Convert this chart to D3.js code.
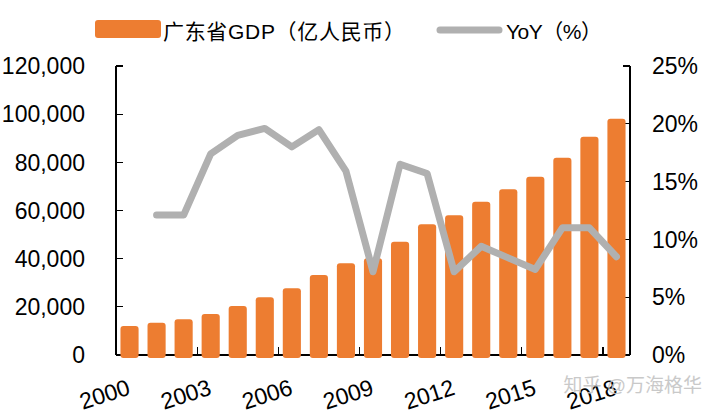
<!DOCTYPE html>
<html>
<head>
<meta charset="utf-8">
<script src="https://cdn.jsdelivr.net/npm/d3@7"></script>
<style>
  html, body { margin: 0; padding: 0; background: #fff; }
  svg { display: block; }
  text { font-family: "Liberation Sans", Arial, "Noto Sans CJK SC", sans-serif; }
</style>
</head>
<body>
<svg id="chart" width="708" height="416"></svg>
<script>
const years = ["2000","2001","2002","2003","2004","2005","2006","2007","2008","2009",
               "2010","2011","2012","2013","2014","2015","2016","2017","2018"];
const gdp = [12040, 13400, 14800, 17000, 20350, 23960, 27700, 33200, 38070, 40150,
             47050, 54270, 58000, 63650, 68800, 74030, 81930, 90640, 98120];
const yoy = [null, 12.1, 12.1, 17.4, 19.0, 19.6, 18.0, 19.5, 15.9, 7.2,
             16.5, 15.7, 7.2, 9.4, 8.4, 7.4, 11.0, 11.0, 8.5];
const leftTicks = [0, 20000, 40000, 60000, 80000, 100000, 120000];
const rightTicks = [0, 5, 10, 15, 20, 25];
const xLabelYears = ["2000","2003","2006","2009","2012","2015","2018"];
const legendLabels = ["广东省GDP（亿人民币）", "YoY（%）"];
const watermark = "知乎 @万海格华";

const svg = d3.select("#chart");
const L = 116, R = 630, T = 66, B = 355;
const fs = 23;

const x = d3.scaleBand().domain(years).range([L, R]).paddingInner(0.33).paddingOuter(0.165);
const yL = d3.scaleLinear().domain([0, 120000]).range([B, T]);
const yR = d3.scaleLinear().domain([0, 25]).range([B, T]);
const step = x.step(), gap = step - x.bandwidth();

// axes lines
const axisG = svg.append("g").attr("stroke", "#000").attr("stroke-width", 1.2).attr("shape-rendering", "crispEdges");
axisG.append("line").attr("x1", L).attr("x2", L).attr("y1", T).attr("y2", B);
axisG.append("line").attr("x1", R).attr("x2", R).attr("y1", T).attr("y2", B);
axisG.append("line").attr("x1", L).attr("x2", R).attr("y1", B).attr("y2", B);
leftTicks.forEach(v => {
  axisG.append("line").attr("x1", L).attr("x2", L + 7).attr("y1", yL(v)).attr("y2", yL(v));
});
rightTicks.forEach(v => {
  axisG.append("line").attr("x1", R - 7).attr("x2", R).attr("y1", yR(v)).attr("y2", yR(v));
});
years.forEach((yr, i) => {
  if (i > 0 && i % 3 === 0) {
    const tx = x(yr) - gap / 2;
    axisG.append("line").attr("x1", tx).attr("x2", tx).attr("y1", B).attr("y2", B - 8);
  }
});

// axis labels
const fmt = d3.format(",");
svg.append("g").selectAll("text").data(leftTicks).join("text")
  .attr("x", 85).attr("y", d => yL(d)).attr("dy", "0.36em")
  .attr("text-anchor", "end").attr("font-size", fs).attr("fill", "#000")
  .text(d => fmt(d));
svg.append("g").selectAll("text").data(rightTicks).join("text")
  .attr("x", 652).attr("y", d => yR(d)).attr("dy", "0.36em")
  .attr("text-anchor", "start").attr("font-size", fs).attr("fill", "#000")
  .text(d => d + "%");
svg.append("g").selectAll("text").data(xLabelYears).join("text")
  .attr("text-anchor", "end").attr("font-size", fs).attr("fill", "#000")
  .attr("transform", d => `translate(${x(d) + x.bandwidth() / 2 + 2},${394}) rotate(-18)`)
  .text(d => d);

// bars
svg.append("g").selectAll("rect").data(gdp).join("rect")
  .attr("x", (d, i) => x(years[i]))
  .attr("width", x.bandwidth())
  .attr("y", d => yL(d))
  .attr("height", d => yL(0) - yL(d) + 3)
  .attr("rx", 3)
  .attr("fill", "#ED7D31");

// line
const line = d3.line()
  .defined(d => d != null)
  .x((d, i) => x(years[i]) + x.bandwidth() / 2)
  .y(d => yR(d));
svg.append("path").datum(yoy)
  .attr("d", line)
  .attr("fill", "none")
  .attr("stroke", "#B0B0B0")
  .attr("stroke-width", 7)
  .attr("stroke-linejoin", "round")
  .attr("stroke-linecap", "round");

// legend
const lg = svg.append("g");
lg.append("rect").attr("x", 95).attr("y", 20).attr("width", 66).attr("height", 18).attr("rx", 3).attr("fill", "#ED7D31");
lg.append("text").attr("x", 163).attr("y", 31).attr("dy", "0.36em").attr("font-size", 21).attr("fill", "#000")
  .attr("textLength", 242).attr("lengthAdjust", "spacing").text(legendLabels[0]);
lg.append("line").attr("x1", 440).attr("x2", 499).attr("y1", 30).attr("y2", 30)
  .attr("stroke", "#B0B0B0").attr("stroke-width", 7).attr("stroke-linecap", "round");
lg.append("text").attr("x", 506).attr("y", 31).attr("dy", "0.36em").attr("font-size", 21).attr("fill", "#000")
  .attr("textLength", 96).attr("lengthAdjust", "spacing").text(legendLabels[1]);

// watermark
svg.append("text").attr("x", 702).attr("y", 385).attr("dy", "0.36em")
  .attr("text-anchor", "end").attr("font-size", 19).attr("fill", "#c4c4c4").attr("opacity", 0.9)
  .text(watermark);
</script>
</body>
</html>
